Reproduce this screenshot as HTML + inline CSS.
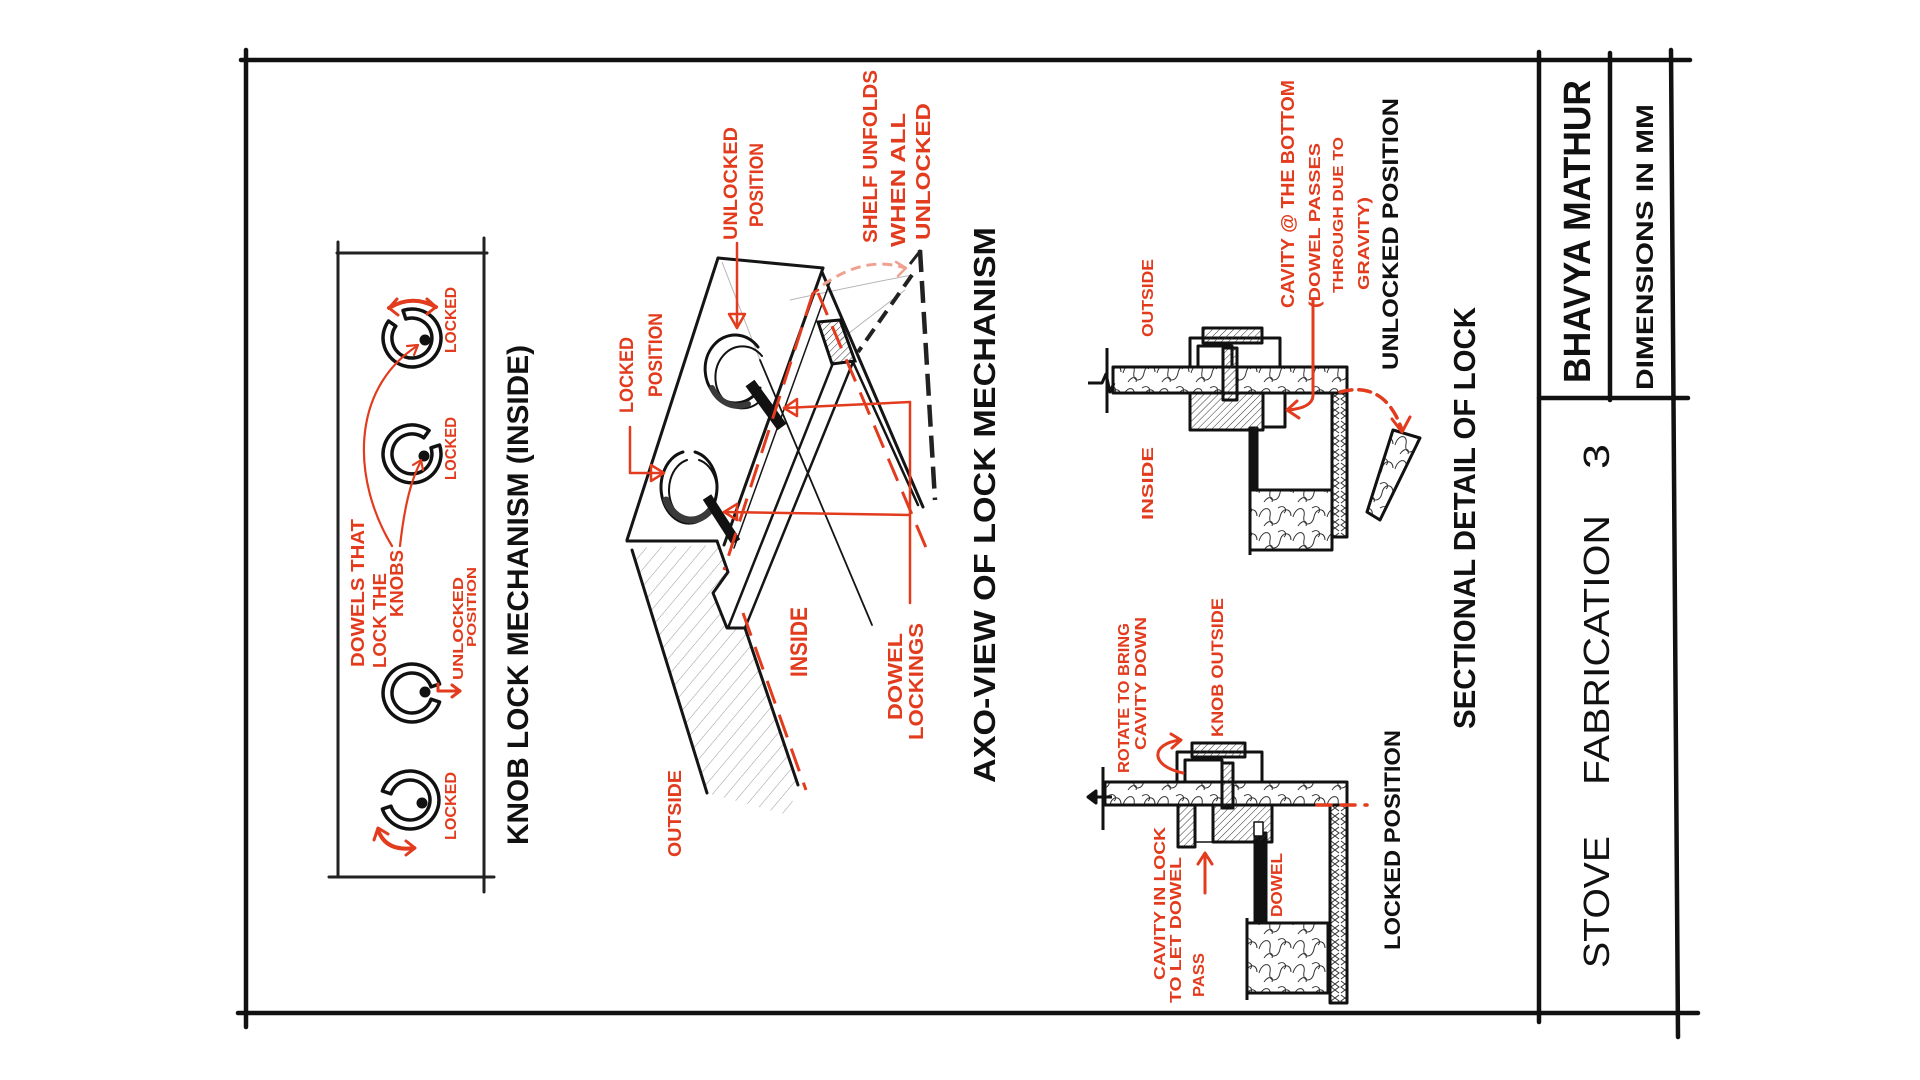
<!DOCTYPE html>
<html><head><meta charset="utf-8"><style>
html,body{margin:0;padding:0;background:#fff;}
svg{display:block;}
text{font-family:"Liberation Sans",sans-serif;font-weight:700;}
.r{fill:#e23b1d;}
.k{fill:#111;}
.thin{font-weight:400;}
</style></head><body>
<svg width="1920" height="1080" viewBox="0 0 1920 1080" xmlns="http://www.w3.org/2000/svg">
<defs>
<pattern id="scr" width="34" height="24" patternUnits="userSpaceOnUse">
<path d="M1,13 C4,2 14,2 12,12 C10,22 20,23 22,13 C24,3 33,4 33,12 M6,22 C10,16 16,16 14,22 M20,4 C26,0 30,6 26,9" fill="none" stroke="#333" stroke-width="1"/>
</pattern>
<pattern id="scr2" width="10" height="14" patternUnits="userSpaceOnUse">
<path d="M1,1 L9,7 L1,13 M9,1 L1,7 L9,13" fill="none" stroke="#333" stroke-width="1"/>
</pattern>
<pattern id="hatch" width="5" height="5" patternUnits="userSpaceOnUse" patternTransform="rotate(45)">
<line x1="0" y1="0" x2="0" y2="5" stroke="#333" stroke-width="1"/>
</pattern>
<pattern id="hatchL" width="11" height="11" patternUnits="userSpaceOnUse" patternTransform="rotate(40)">
<line x1="0" y1="0" x2="0" y2="11" stroke="#9a9a9a" stroke-width="1"/>
</pattern>
</defs>

<!-- Frame -->
<g stroke="#111" stroke-width="4.5" stroke-linecap="round" fill="none">
<line x1="241" y1="60" x2="1690" y2="60"/>
<line x1="246" y1="50" x2="246" y2="1027"/>
<line x1="238" y1="1013" x2="1698" y2="1013"/>
<line x1="1539" y1="52" x2="1539" y2="1022"/>
<line x1="1610" y1="53" x2="1610" y2="400"/>
<line x1="1671" y1="50" x2="1678" y2="1037"/>
<line x1="1539" y1="398" x2="1688" y2="398"/>
</g>

<!-- Title block text -->
<text class="k" font-size="38" transform="translate(1590,383) rotate(-90)" textLength="303" lengthAdjust="spacingAndGlyphs">BHAVYA MATHUR</text>
<text class="k" font-size="24" transform="translate(1653,390) rotate(-90)" textLength="286" lengthAdjust="spacingAndGlyphs">DIMENSIONS IN MM</text>
<text class="k thin" font-size="36" style="font-weight:400" transform="translate(1609,968) rotate(-90)" textLength="132" lengthAdjust="spacingAndGlyphs">STOVE</text>
<text class="k thin" font-size="36" style="font-weight:400" transform="translate(1609,785) rotate(-90)" textLength="270" lengthAdjust="spacingAndGlyphs">FABRICATION</text>
<text class="k thin" font-size="36" style="font-weight:400" transform="translate(1609,469) rotate(-90)" textLength="25" lengthAdjust="spacingAndGlyphs">3</text>

<!-- Knob panel -->
<g stroke="#222" stroke-width="3" stroke-linecap="round" fill="none">
<line x1="338" y1="242" x2="338" y2="877"/>
<line x1="484" y1="238" x2="484" y2="892"/>
<line x1="337" y1="253" x2="487" y2="253"/>
<line x1="329" y1="877" x2="494" y2="877"/>
</g>
<g stroke="#111" stroke-width="3.5" fill="none" stroke-linejoin="round">
<path d="M403.0,310.4 A29,29 0 1 1 388.5,321.0 L395.8,326.2 A20,20 0 1 0 405.8,319.0 Z"/>
<path d="M439.6,445.0 A29,29 0 1 1 429.1,430.5 L423.8,437.8 A20,20 0 1 0 431.0,447.8 Z"/>
<path d="M439.6,702.0 A29,29 0 1 1 439.6,684.0 L431.0,686.8 A20,20 0 1 0 431.0,699.2 Z"/>
<path d="M382.4,791.0 A29,29 0 1 1 382.4,809.0 L391.0,806.2 A20,20 0 1 0 391.0,793.8 Z"/>
</g>
<g fill="#111">
<circle cx="425" cy="340" r="5.5"/>
<circle cx="424" cy="456" r="5.5"/>
<circle cx="425" cy="692" r="5.5"/>
<circle cx="422" cy="803" r="5.5"/>
</g>
<g stroke="#e23b1d" stroke-width="3" fill="none" stroke-linecap="round" stroke-linejoin="round">
<path d="M389,308 Q412,294 436,307" stroke-width="4"/>
<path d="M397,299 L389,308 L398,315"/>
<path d="M427,299 L436,307 L427,314"/>
<path d="M378,830 Q386,852 414,848" stroke-width="4"/>
<path d="M374,840 L378,828 L388,834"/>
<path d="M406,841 L415,848 L406,855"/>
<path d="M438,684 L438,691 L460,691"/>
<path d="M452,685 L460,691 L452,697"/>
<path d="M392,546 C352,480 350,390 417,346" stroke-width="2.2"/>
<path d="M407,346 L418,345 L414,355" stroke-width="2.2"/>
<path d="M400,546 C404,510 410,482 421,461" stroke-width="2.2"/>
<path d="M413,465 L421,460 L423,470" stroke-width="2.2"/>
</g>
<text class="r" font-size="16" transform="translate(456,353) rotate(-90)" textLength="66" lengthAdjust="spacingAndGlyphs">LOCKED</text>
<text class="r" font-size="16" transform="translate(456,480) rotate(-90)" textLength="63" lengthAdjust="spacingAndGlyphs">LOCKED</text>
<text class="r" font-size="15" transform="translate(463,680) rotate(-90)" textLength="103" lengthAdjust="spacingAndGlyphs">UNLOCKED</text>
<text class="r" font-size="13" transform="translate(476,647) rotate(-90)" textLength="80" lengthAdjust="spacingAndGlyphs">POSITION</text>
<text class="r" font-size="16" transform="translate(456,840) rotate(-90)" textLength="68" lengthAdjust="spacingAndGlyphs">LOCKED</text>
<text class="r" font-size="18" transform="translate(364,667) rotate(-90)" textLength="148" lengthAdjust="spacingAndGlyphs">DOWELS THAT</text>
<text class="r" font-size="18" transform="translate(386,668) rotate(-90)" textLength="95" lengthAdjust="spacingAndGlyphs">LOCK THE</text>
<text class="r" font-size="18" transform="translate(403,617) rotate(-90)" textLength="67" lengthAdjust="spacingAndGlyphs">KNOBS</text>
<text class="k" font-size="30" transform="translate(528,845) rotate(-90)" textLength="500" lengthAdjust="spacingAndGlyphs">KNOB LOCK MECHANISM (INSIDE)</text>

<!-- AXO view -->
<polygon points="632,548 717,545 728,572 713,593 727,628 745,628 798,785 788,815 707,793" fill="url(#hatchL)" stroke="none"/>
<g stroke="#b5b5b5" stroke-width="1" fill="none">
<path d="M790,300 Q860,285 912,275"/>
<path d="M840,340 L905,290"/>
<line x1="722" y1="262" x2="760" y2="360"/>
</g>
<g stroke="#151515" stroke-width="3" stroke-linecap="round" stroke-linejoin="round" fill="none">
<line x1="718" y1="258" x2="823" y2="268"/>
<line x1="718" y1="258" x2="627" y2="540"/>
<line x1="627" y1="541" x2="717" y2="541"/>
<polyline points="717,541 728,572 713,593 727,628 745,628"/>
<line x1="823" y1="268" x2="724" y2="545"/>
<line x1="830" y1="282" x2="734" y2="548" stroke-width="1.5"/>
<line x1="632" y1="550" x2="707" y2="793"/>
<line x1="745" y1="628" x2="798" y2="785"/>
<line x1="833" y1="363" x2="728" y2="628" stroke-width="2.5"/>
<line x1="853" y1="362" x2="745" y2="628" stroke-width="2.5"/>
<line x1="822" y1="272" x2="923" y2="507"/>
<line x1="853" y1="362" x2="918" y2="505" stroke-width="2.5"/>
<line x1="760" y1="360" x2="872" y2="625" stroke-width="1.8"/>
</g>
<polygon points="818,322 840,320 855,361 832,364" fill="url(#hatch)" stroke="#111" stroke-width="3"/>
<!-- knobs axo -->
<g fill="none" stroke="#111" stroke-linecap="round">
<path d="M758,347 A30,34 0 1 0 760,388" stroke-width="3"/>
<path d="M762,356 A27,31 0 1 0 764,396" stroke-width="2"/>
<path d="M712,388 A30,34 0 0 0 748,404" stroke-width="6" stroke="#3a3a3a"/>
<path d="M695,452 A28,36 0 1 1 683,452" stroke-width="3"/>
<path d="M699,460 A24,31 0 1 1 687,460" stroke-width="2"/>
<path d="M666,500 A28,36 0 0 0 712,508" stroke-width="7" stroke="#3a3a3a"/>
<line x1="750" y1="383" x2="782" y2="427" stroke-width="11" stroke-linecap="butt"/>
<line x1="707" y1="497" x2="736" y2="542" stroke-width="10" stroke-linecap="butt"/>
</g>
<!-- dashed black shelf -->
<g stroke="#222" fill="none" stroke-linecap="butt">
<line x1="920" y1="250" x2="935" y2="500" stroke-width="4.5" stroke-dasharray="22 9"/>
<line x1="910" y1="264" x2="921" y2="250" stroke-width="3"/>
<line x1="912" y1="275" x2="858" y2="352" stroke-width="4" stroke-dasharray="14 8"/>
</g>
<!-- red dashed axo -->
<g stroke="#e23b1d" fill="none" stroke-width="3" stroke-dasharray="24 12">
<line x1="813" y1="293" x2="724" y2="570"/>
<line x1="743" y1="613" x2="806" y2="790"/>
<line x1="818" y1="293" x2="930" y2="557"/>
<path d="M823,285 Q865,255 905,268" stroke="#f0a090" stroke-dasharray="10 6"/>
</g>
<g stroke="#e23b1d" fill="none" stroke-width="2.5" stroke-linecap="round" stroke-linejoin="round">
<path d="M813,293 L818,290"/>
<path d="M896,262 L906,268 L898,276" stroke="#f0a090"/>
<line x1="737" y1="243" x2="737" y2="328"/>
<path d="M729,314 L737,328 L745,314 Z"/>
<polyline points="630,427 630,473 664,473"/>
<path d="M651,465 L664,473 L651,481 Z"/>
<line x1="910" y1="402" x2="910" y2="603"/>
<line x1="784" y1="408" x2="910" y2="402"/>
<path d="M797,399 L784,408 L797,416 Z"/>
<line x1="724" y1="512" x2="910" y2="515"/>
<path d="M737,504 L724,512 L737,520 Z"/>
</g>
<text class="r" font-size="19" transform="translate(737,240) rotate(-90)" textLength="113" lengthAdjust="spacingAndGlyphs">UNLOCKED</text>
<text class="r" font-size="19" transform="translate(763,227) rotate(-90)" textLength="84" lengthAdjust="spacingAndGlyphs">POSITION</text>
<text class="r" font-size="19" transform="translate(633,413) rotate(-90)" textLength="76" lengthAdjust="spacingAndGlyphs">LOCKED</text>
<text class="r" font-size="19" transform="translate(662,397) rotate(-90)" textLength="84" lengthAdjust="spacingAndGlyphs">POSITION</text>
<text class="r" font-size="20" transform="translate(877,243) rotate(-90)" textLength="173" lengthAdjust="spacingAndGlyphs">SHELF UNFOLDS</text>
<text class="r" font-size="20" transform="translate(905,247) rotate(-90)" textLength="134" lengthAdjust="spacingAndGlyphs">WHEN ALL</text>
<text class="r" font-size="20" transform="translate(930,240) rotate(-90)" textLength="137" lengthAdjust="spacingAndGlyphs">UNLOCKED</text>
<text class="r" font-size="24" transform="translate(807,677) rotate(-90)" textLength="70" lengthAdjust="spacingAndGlyphs">INSIDE</text>
<text class="r" font-size="18" transform="translate(681,857) rotate(-90)" textLength="87" lengthAdjust="spacingAndGlyphs">OUTSIDE</text>
<text class="r" font-size="20" transform="translate(902,720) rotate(-90)" textLength="87" lengthAdjust="spacingAndGlyphs">DOWEL</text>
<text class="r" font-size="20" transform="translate(923,740) rotate(-90)" textLength="117" lengthAdjust="spacingAndGlyphs">LOCKINGS</text>
<text class="k" font-size="31" transform="translate(995,783) rotate(-90)" textLength="556" lengthAdjust="spacingAndGlyphs">AXO-VIEW OF LOCK MECHANISM</text>

<!-- Section: unlocked -->
<g stroke="#111" stroke-width="3" fill="none" stroke-linejoin="round">
<rect x="1113" y="367" width="110" height="26" fill="url(#scr)"/>
<rect x="1237" y="367" width="110" height="26" fill="url(#scr)"/>
<line x1="1107" y1="348" x2="1107" y2="413"/>
<path d="M1088,383 L1102,383 L1106,374 L1110,392 L1114,383"/>
<rect x="1332" y="393" width="15" height="144" fill="url(#scr2)"/>
<rect x="1250" y="490" width="82" height="60" fill="url(#scr)"/>
<line x1="1250" y1="488" x2="1250" y2="555"/>
<rect x="1250" y="428" width="7" height="62" fill="#111"/>
<rect x="1190" y="393" width="73" height="37" fill="url(#hatch)"/>
<rect x="1263" y="393" width="22" height="34"/>
<rect x="1190" y="338" width="90" height="29" fill="#fff"/>
<rect x="1198" y="346" width="34" height="21"/>
<rect x="1203" y="328" width="59" height="15" fill="url(#hatch)"/>
<rect x="1223" y="348" width="14" height="52" fill="url(#hatch)"/>
<polygon points="1393,430 1420,438 1380,520 1367,512" fill="url(#scr)"/>
</g>
<g stroke="#e23b1d" stroke-width="3" fill="none" stroke-linecap="round" stroke-linejoin="round">
<path d="M1313,300 L1313,396 Q1312,408 1288,410"/>
<path d="M1297,401 L1287,410 L1299,418"/>
<path d="M1340,392 Q1385,380 1402,430" stroke-dasharray="12 7" stroke-width="3.5"/>
<path d="M1392,419 L1402,432 L1410,417"/>
</g>
<text class="r" font-size="16" transform="translate(1153,337) rotate(-90)" textLength="78" lengthAdjust="spacingAndGlyphs">OUTSIDE</text>
<text class="r" font-size="16" transform="translate(1153,520) rotate(-90)" textLength="73" lengthAdjust="spacingAndGlyphs">INSIDE</text>
<text class="r" font-size="18" transform="translate(1294,308) rotate(-90)" textLength="228" lengthAdjust="spacingAndGlyphs">CAVITY @ THE BOTTOM</text>
<text class="r" font-size="16" transform="translate(1320,308) rotate(-90)" textLength="165" lengthAdjust="spacingAndGlyphs">(DOWEL PASSES</text>
<text class="r" font-size="15" transform="translate(1343,293) rotate(-90)" textLength="156" lengthAdjust="spacingAndGlyphs">THROUGH DUE TO</text>
<text class="r" font-size="16" transform="translate(1369,290) rotate(-90)" textLength="93" lengthAdjust="spacingAndGlyphs">GRAVITY)</text>
<text class="k" font-size="22" transform="translate(1398,370) rotate(-90)" textLength="272" lengthAdjust="spacingAndGlyphs">UNLOCKED POSITION</text>
<text class="k" font-size="31" transform="translate(1475,729) rotate(-90)" textLength="422" lengthAdjust="spacingAndGlyphs">SECTIONAL DETAIL OF LOCK</text>

<!-- Section: locked -->
<g stroke="#111" stroke-width="3" fill="none" stroke-linejoin="round">
<rect x="1105" y="782" width="117" height="23" fill="url(#scr)"/>
<rect x="1233" y="782" width="114" height="23" fill="url(#scr)"/>
<line x1="1103" y1="767" x2="1103" y2="830"/>
<path d="M1088,797 L1096,791 L1096,803 Z" fill="#111"/>
<line x1="1096" y1="797" x2="1112" y2="797"/>
<rect x="1330" y="805" width="17" height="198" fill="url(#scr2)"/>
<rect x="1247" y="923" width="81" height="70" fill="url(#scr)"/>
<line x1="1247" y1="918" x2="1247" y2="1000"/>
<rect x="1255" y="833" width="11" height="90" fill="#111"/>
<rect x="1213" y="805" width="59" height="37" fill="url(#hatch)"/>
<rect x="1178" y="805" width="17" height="42" fill="url(#hatch)"/>
<line x1="1195" y1="842" x2="1213" y2="842" stroke-width="1.5"/>
<rect x="1177" y="752" width="85" height="30" fill="#fff"/>
<rect x="1185" y="760" width="37" height="22"/>
<rect x="1192" y="743" width="53" height="14" fill="url(#hatch)"/>
<rect x="1222" y="763" width="11" height="45" fill="url(#hatch)"/>
<rect x="1254" y="822" width="9" height="14" fill="#fff" stroke-width="1.5"/>
</g>
<g stroke="#e23b1d" stroke-width="3" fill="none" stroke-linecap="round" stroke-linejoin="round">
<line x1="1317" y1="805" x2="1367" y2="805" stroke-dasharray="14 10" stroke-width="3.5"/>
<path d="M1183,773 C1150,766 1150,744 1180,740"/>
<path d="M1171,734 L1181,740 L1172,748"/>
<line x1="1205" y1="893" x2="1205" y2="855"/>
<path d="M1198,864 L1205,853 L1212,864"/>
</g>
<text class="r" font-size="16" transform="translate(1129,773) rotate(-90)" textLength="150" lengthAdjust="spacingAndGlyphs">ROTATE TO BRING</text>
<text class="r" font-size="16" transform="translate(1146,750) rotate(-90)" textLength="133" lengthAdjust="spacingAndGlyphs">CAVITY DOWN</text>
<text class="r" font-size="17" transform="translate(1223,737) rotate(-90)" textLength="139" lengthAdjust="spacingAndGlyphs">KNOB OUTSIDE</text>
<text class="r" font-size="16" transform="translate(1165,980) rotate(-90)" textLength="153" lengthAdjust="spacingAndGlyphs">CAVITY IN LOCK</text>
<text class="r" font-size="16" transform="translate(1181,1003) rotate(-90)" textLength="146" lengthAdjust="spacingAndGlyphs">TO LET DOWEL</text>
<text class="r" font-size="16" transform="translate(1204,997) rotate(-90)" textLength="44" lengthAdjust="spacingAndGlyphs">PASS</text>
<text class="r" font-size="16" transform="translate(1282,917) rotate(-90)" textLength="64" lengthAdjust="spacingAndGlyphs">DOWEL</text>
<text class="k" font-size="22" transform="translate(1400,950) rotate(-90)" textLength="220" lengthAdjust="spacingAndGlyphs">LOCKED POSITION</text>
</svg>
</body></html>
